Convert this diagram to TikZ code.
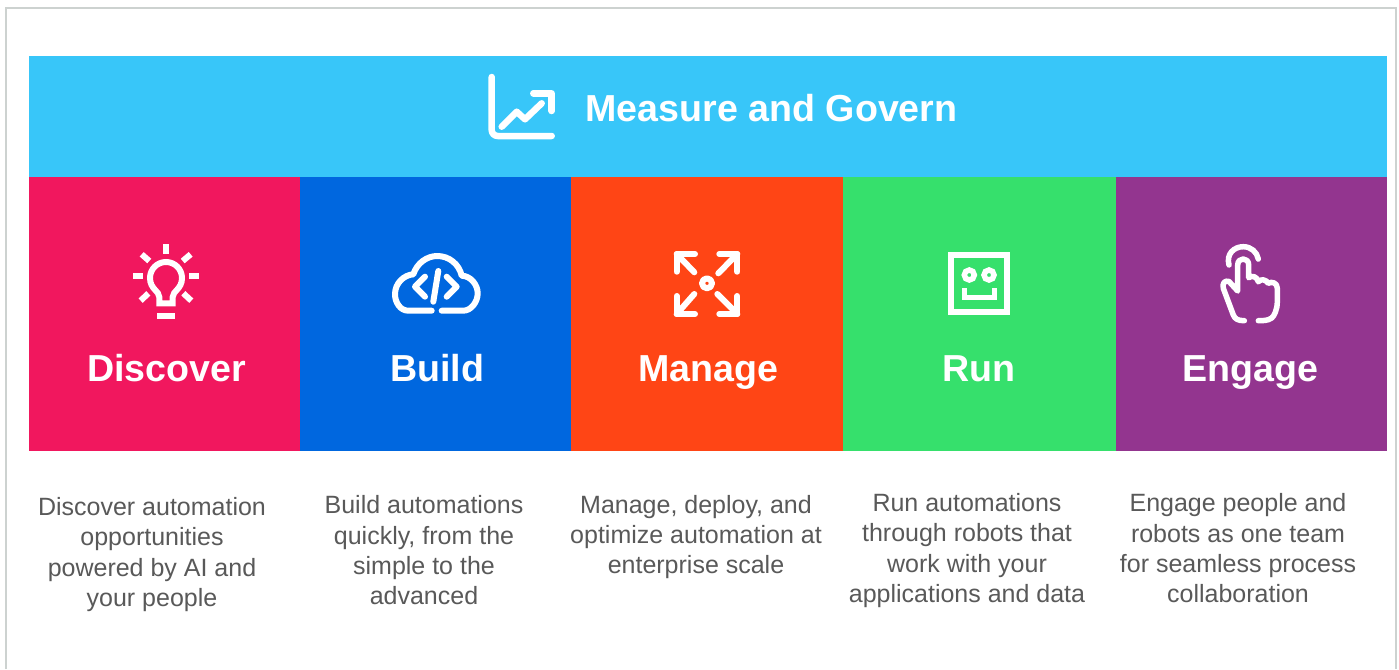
\documentclass[tikz,border=0pt]{standalone}
\usepackage{fontspec}
\setmainfont{Liberation Sans}
\definecolor{barblue}{HTML}{38C6F9}
\definecolor{cdiscover}{HTML}{F1175E}
\definecolor{cbuild}{HTML}{0067DF}
\definecolor{cmanage}{HTML}{FF4515}
\definecolor{crun}{HTML}{36E06C}
\definecolor{cengage}{HTML}{93358F}
\definecolor{bodygrey}{HTML}{595959}
\definecolor{frame}{HTML}{CDD2D0}
\tikzset{
  panel/.style={inner sep=0pt,outer sep=0pt,draw=none,anchor=north west},
  title/.style={text=white,font=\fontsize{37.6}{40}\selectfont\bfseries,inner sep=0pt,anchor=base},
  body/.style={text=bodygrey,font=\fontsize{25}{30.3}\selectfont,align=center,inner sep=0pt},
  icon/.style={draw=white,line width=6pt,line cap=round,line join=round},
  iconb/.style={draw=white,line width=6pt,line cap=butt,line join=miter},
}
\begin{document}
\begin{tikzpicture}[x=1pt,y=-1pt]
\useasboundingbox (0,0) rectangle (1399,669);
\fill[white] (0,0) rectangle (1399,669);
\draw[frame,line width=2pt] (6,669) -- (6,8) -- (1396,8) -- (1396,669);
% panels
\node[panel,fill=barblue,minimum width=1358pt,minimum height=121pt] (bar) at (29,56) {};
\node[panel,fill=cdiscover,minimum width=271pt,minimum height=274pt] (pdiscover) at (29,177) {};
\node[panel,fill=cbuild,minimum width=271pt,minimum height=274pt] (pbuild) at (300,177) {};
\node[panel,fill=cmanage,minimum width=272pt,minimum height=274pt] (pmanage) at (571,177) {};
\node[panel,fill=crun,minimum width=273pt,minimum height=274pt] (prun) at (843,177) {};
\node[panel,fill=cengage,minimum width=271pt,minimum height=274pt] (pengage) at (1116,177) {};
% titles
\node[title] (tbar) at (771.5,121) {Measure and Govern};
\node[title] (tdiscover) at (166.5,381) {Discover};
\node[title] (tbuild) at (437,381) {Build};
\node[title] (tmanage) at (708,381) {Manage};
\node[title] (trun) at (979,381) {Run};
\node[title] (tengage) at (1250,381) {Engage};
% body
\node[body] (bdiscover) at (152,554.5) {Discover automation\\opportunities\\powered by AI and\\your people};
\node[body] (bbuild) at (424,550.5) {Build automations\\quickly, from the\\simple to the\\advanced};
\node[body] (bmanage) at (696,537) {Manage, deploy, and\\optimize automation at\\enterprise scale};
\node[body] (brun) at (967,550.5) {Run automations\\through robots that\\work with your\\applications and data};
\node[body] (bengage) at (1238,548.5) {Engage people and\\robots as one team\\for seamless process\\collaboration};
% chart icon
\draw[icon,line width=6.5pt] (491.7,77) -- (491.7,130) arc[start angle=180,end angle=90,radius=6] -- (551.7,136);
\draw[icon,line width=6.5pt] (501.7,126.7) -- (516.7,111.7) -- (525,119.3) -- (541.7,103.3);
\draw[icon,line width=6.5pt] (533.3,93.3) -- (551.7,93.3) -- (551.7,111);
% bulb icon
\draw[iconb] (165.7,244.3) -- (165.7,254);
\draw[iconb] (133.3,276.3) -- (143.3,276.3);
\draw[iconb] (189.3,276.3) -- (199.3,276.3);
\draw[iconb] (141.7,254.3) -- (149.3,261);
\draw[iconb] (190.7,254.3) -- (182.7,261);
\draw[iconb] (140.7,300.7) -- (148.3,293.3);
\draw[iconb] (191.3,300.7) -- (183.3,293.3);
\draw[iconb] (157.3,316) -- (175,316);
\draw[iconb] (159.3,303.3) -- (159.3,297) .. controls (159.3,291) and (150,289) .. (150,278)
  arc[start angle=180,end angle=360,radius=16]
  .. controls (182,289) and (172.7,291) .. (172.7,297) -- (172.7,303.3) -- cycle;
% cloud icon
\draw[icon] (431.7,310.7) -- (408.3,310.7)
  .. controls (400,310.7) and (395,302) .. (395,294.3)
  .. controls (395,283) and (404,275) .. (413.3,274.3)
  .. controls (417,263) and (427,256) .. (437.3,256)
  .. controls (449,256) and (459,264) .. (461.7,275.7)
  .. controls (471,276) and (477.7,285) .. (477.7,293.3)
  .. controls (477.7,302) and (471,310.7) .. (463.3,310.7) -- (441.7,310.7);
\draw[icon] (425,276.7) -- (415,286.7) -- (425,296.7);
\draw[icon] (446.7,276.7) -- (456.7,286.7) -- (446.7,296.7);
\draw[icon] (438.3,271) -- (433.3,301.7);
% manage icon
\draw[icon] (707,283.3) circle[radius=5];
\draw[icon] (694.3,272.3) -- (676.7,254);
\draw[icon] (695,254) -- (676.7,254) -- (676.7,271.7);
\draw[icon] (718.3,273.3) -- (737.3,254);
\draw[icon] (719.3,254) -- (737.3,254) -- (737.3,271.7);
\draw[icon] (694.3,294) -- (676.7,314);
\draw[icon] (695,314) -- (676.7,314) -- (676.7,296);
\draw[icon] (717.3,294) -- (737.3,314);
\draw[icon] (719.3,314) -- (737.3,314) -- (737.3,296);
% run icon
\draw[iconb] (950.7,254.7) rectangle (1007,312);
\draw[iconb,line width=5.5pt] (969.3,275) circle[radius=5];
\draw[iconb,line width=5.5pt] (989,275) circle[radius=5];
\draw[iconb,line width=5pt] (964,288.3) -- (964,297.3) -- (994.3,297.3) -- (994.3,288.3);
% engage icon
\draw[icon,line width=5.5pt] (1229,265) .. controls (1226,254) and (1234,246.7) .. (1243.3,246.7)
  .. controls (1251,246.7) and (1257,252) .. (1258.3,259);
\draw[icon,line width=5.5pt] (1244.3,320.7) .. controls (1238,320.7) and (1235,319) .. (1233.3,315)
  -- (1223.3,288.3) .. controls (1222,283) and (1225,280) .. (1229,281.5)
  -- (1237.7,291) -- (1237.7,265) .. controls (1237.7,257) and (1248.7,257) .. (1248.7,265)
  -- (1248.7,277.7) .. controls (1252,275) and (1257,276.5) .. (1258.3,281.7)
  .. controls (1261,278.5) and (1266,279.5) .. (1268.3,283.3)
  .. controls (1272,281) and (1277.3,283) .. (1277.3,288.3) -- (1277.3,301.7)
  .. controls (1277.3,310) and (1274,316) .. (1271.7,318)
  .. controls (1268,320.7) and (1263,320.7) .. (1258.3,320.7);
\end{tikzpicture}
\end{document}
